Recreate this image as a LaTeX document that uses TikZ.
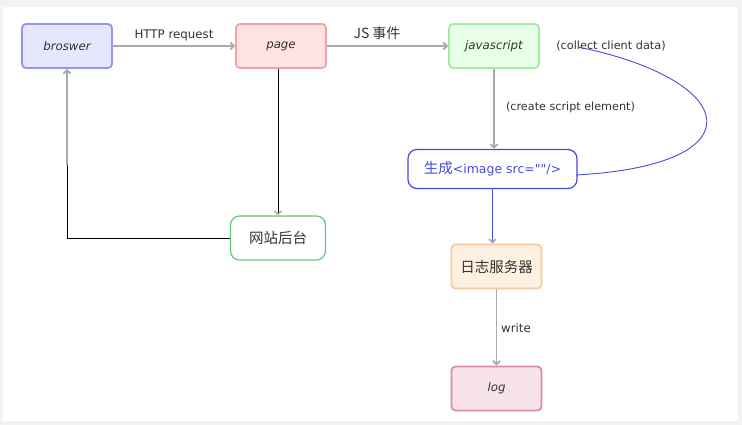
\documentclass[tikz,border=0pt]{standalone}
\usepackage{fontspec}
\setmainfont{DejaVu Sans}
\newfontfamily\cjk{Noto Sans CJK SC}
\usetikzlibrary{arrows.meta}
\definecolor{framegray}{HTML}{F3F3F3}
\definecolor{txt}{HTML}{333333}
\definecolor{agray}{HTML}{AAAAAA}
\definecolor{bfill}{HTML}{E6E6FF}\definecolor{bdraw}{HTML}{9696EE}
\definecolor{pfill}{HTML}{FFE2E2}\definecolor{pdraw}{HTML}{F2A2A2}
\definecolor{jfill}{HTML}{E8FFE8}\definecolor{jdraw}{HTML}{A2EEA2}
\definecolor{rfill}{HTML}{FFF1E1}\definecolor{rdraw}{HTML}{F6CC9C}
\definecolor{lfill}{HTML}{F8E3EC}\definecolor{ldraw}{HTML}{D8909F}
\definecolor{wdraw}{HTML}{66C67E}
\definecolor{bl}{HTML}{4A4AE0}
\tikzset{
  box/.style={rectangle, rounded corners=4pt, line width=1.8pt, minimum width=90pt,
    minimum height=44pt, inner sep=0pt, text=txt, font=\fontsize{11.8}{14}\selectfont\itshape},
  cjkbox/.style={rectangle, rounded corners=9pt, line width=1.2pt, inner sep=0pt,
    text=txt, font=\cjk\fontsize{14.5}{16}\selectfont},
  lab/.style={text=txt, inner sep=0pt, font=\fontsize{11.8}{14}\selectfont},
  garrow/.style={draw=agray, line width=1.8pt, -{Straight Barb[length=3.5pt,width=7pt]}},
  tipgray/.style={-{Straight Barb[length=3.5pt,width=7pt,color=agray,line width=1.5pt]}},
}
\begin{document}
\begin{tikzpicture}[x=1pt,y=-1pt]
\fill[framegray] (0,0) rectangle (742,425);
\fill[white] (3,7) rectangle (738,421);
\useasboundingbox (0,0) rectangle (742,425);

\node[box, fill=bfill, draw=bdraw] (b) at (67,46) {broswer};
\node[box, fill=pfill, draw=pdraw] (p) at (281,46) {page};
\node[box, fill=jfill, draw=jdraw] (j) at (494,46) {javascript};
\node[cjkbox, draw=bl, text=bl, minimum width=169pt, minimum height=39pt] (g) at (492.5,169)
  {生成{\fontspec{DejaVu Sans}\fontsize{12.5}{15}\selectfont<image src=""/>}};
\node[box, fill=rfill, draw=rdraw, font=\cjk\fontsize{14.5}{16}\selectfont] (r) at (496.5,266.5) {日志服务器};
\node[box, fill=lfill, draw=ldraw] (l) at (496.5,388.5) {log};
\node[cjkbox, draw=wdraw, fill=white, minimum width=95pt, minimum height=44pt] (w) at (278,238) {网站后台};

\node[lab] (lhttp) at (174,35) {HTTP request};
\node[lab, font=\cjk\fontsize{14}{16}\selectfont] (ljs) at (377,33) {JS 事件};
\node[lab, font=\fontsize{11.3}{14}\selectfont] (lcol) at (611,46) {(collect client data)};
\node[lab, font=\fontsize{11.2}{14}\selectfont] (lcse) at (570.5,107) {(create script element)};
\node[lab] (lwr) at (516,328) {write};

\draw[garrow] (b) -- (p);
\draw[garrow] (p) -- (j);
\draw[garrow] (j.south) -- (j.south |- g.north);
\draw[garrow] (r) -- (l);

\draw[black, line width=0.9pt, tipgray] (w.north |- p.south) -- (w.north);

\coordinate (mid) at (67,165);
\draw[black, line width=0.9pt] (w.west) -| (mid);
\draw[garrow] (mid) -- (b.south);

\draw[bl, line width=0.9pt, tipgray] (g.south) -- (g.south |- r.north);

\coordinate (cs) at (576,175);
\coordinate (ce) at (578,47);
\draw[bl, line width=0.9pt] (cs) .. controls (760,165) and (740,80) .. (ce);
\end{tikzpicture}
\end{document}
